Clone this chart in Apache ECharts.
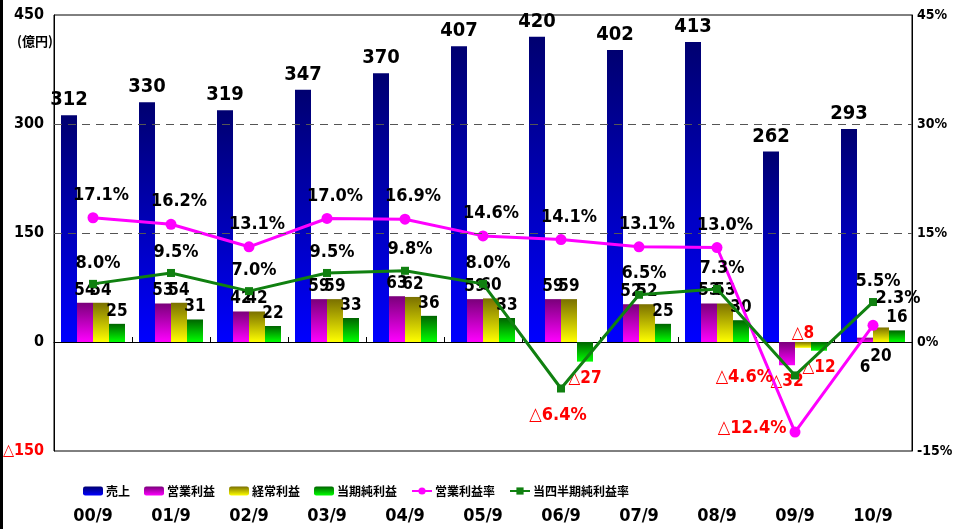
<!DOCTYPE html>
<html>
<head>
<meta charset="utf-8">
<script src="https://cdn.jsdelivr.net/npm/echarts@6/dist/echarts.min.js"></script>
<style>
  html, body { margin: 0; padding: 0; background: #fff; }
  #chart { width: 953px; height: 529px; }
</style>
</head>
<body>
<div id="chart"></div>
<script>
// Half-year results (September periods), 億円 and %
const categories = ['00/9', '01/9', '02/9', '03/9', '04/9', '05/9', '06/9', '07/9', '08/9', '09/9', '10/9'];
const sales = [312, 330, 319, 347, 370, 407, 420, 402, 413, 262, 293];
const operatingProfit = [54, 53, 42, 59, 63, 59, 59, 52, 53, -32, 6];
const ordinaryProfit = [54, 54, 42, 59, 62, 60, 59, 52, 53, -8, 20];
const netProfit = [25, 31, 22, 33, 36, 33, -27, 25, 30, -12, 16];
const operatingMargin = [17.1, 16.2, 13.1, 17.0, 16.9, 14.6, 14.1, 13.1, 13.0, -12.4, 2.3];
const quarterlyNetMargin = [8.0, 9.5, 7.0, 9.5, 9.8, 8.0, -6.4, 6.5, 7.3, -4.6, 5.5];
const amountTicks = [-150, 450, 150];   // min, max, step
const rateTicks = [-15, 45, 15];

const FONT = "'Liberation Sans Narrow', 'Arial Narrow', 'DejaVu Sans Condensed', 'Noto Sans CJK JP', sans-serif";
const CJK = "'Noto Sans CJK JP', sans-serif";
const RED = '#ff0000';

function grad(top, bottom) {
  return new echarts.graphic.LinearGradient(0, 0, 0, 1, [
    { offset: 0, color: top }, { offset: 1, color: bottom }
  ]);
}

const tri = v => '\u25B3' + v;
const fmtAmount = p => (p.value < 0 ? tri(Math.abs(p.value)) : String(p.value));
const fmtRate = p => (p.value < 0 ? tri(Math.abs(p.value).toFixed(1)) + '%' : p.value.toFixed(1) + '%');

// Individual label placements that differ from the series default
const barLabelTweaks = {
  op: { 10: { position: 'bottom', distance: 17 } },
  ord: { 9: { position: 'top', distance: 0 }, 10: { position: 'bottom', distance: 6 } },
  net: {}
};
const lineLabelTweaks = {
  margin: { 9: { position: 'left', distance: 3, offset: [0, -4] }, 10: { position: 'top', offset: [25, -4] } },
  qnet: { 6: { position: 'bottom', distance: 14, offset: [-3, 0] }, 9: { position: 'left', distance: 18, offset: [0, 2] } }
};

function barItems(values, tweaks) {
  return values.map((v, i) => {
    let label = null;
    if (v < 0) label = { color: RED, position: 'bottom', distance: 8 };
    if (tweaks[i]) label = Object.assign(label || {}, tweaks[i]);
    return label ? { value: v, label } : v;
  });
}
function lineItems(values, tweaks) {
  return values.map((v, i) => {
    let label = null;
    if (v < 0) label = { color: RED };
    if (tweaks[i]) label = Object.assign(label || {}, tweaks[i]);
    return label ? { value: v, label } : v;
  });
}

const barLabel = {
  show: true, position: 'top', distance: 4,
  fontFamily: FONT, fontWeight: 'bold', fontSize: 17, color: '#000',
  formatter: fmtAmount
};

const chart = echarts.init(document.getElementById('chart'), null, { renderer: 'canvas' });

chart.setOption({
  animation: false,
  backgroundColor: '#fff',
  grid: {
    left: 54, top: 15, width: 858, height: 436,
    containLabel: false, outerBoundsMode: 'none',
    show: true, borderColor: '#000', borderWidth: 1, backgroundColor: 'transparent'
  },
  legend: {
    left: 78, top: 480,
    itemWidth: 20, itemHeight: 9, itemGap: 14,
    textStyle: { fontFamily: CJK, fontWeight: 'bold', fontSize: 12, color: '#000', padding: [0, 0, 0, -2] },
    data: ['売上', '営業利益', '経常利益', '当期純利益', '営業利益率', '当四半期純利益率']
  },
  xAxis: {
    type: 'category',
    data: categories,
    axisLine: { onZero: true, lineStyle: { color: '#000', width: 1 } },
    axisTick: { show: true, inside: true, length: 5, lineStyle: { color: '#000' } },
    axisLabel: { margin: 56, fontFamily: FONT, fontWeight: 'bold', fontSize: 18, color: '#000' },
    splitLine: { show: false }
  },
  yAxis: [
    {
      type: 'value', min: amountTicks[0], max: amountTicks[1], interval: amountTicks[2],
      axisLine: { show: true, lineStyle: { color: '#000' } },
      axisTick: { show: false },
      splitLine: { show: false },
      axisLabel: {
        margin: 10, fontFamily: FONT, fontWeight: 'bold', fontSize: 16, color: '#000',
        formatter: v => (v < 0 ? '{neg|' + tri(-v) + '}' : String(v)),
        rich: { neg: { color: RED, fontFamily: FONT, fontWeight: 'bold', fontSize: 16 } }
      }
    },
    {
      type: 'value', min: rateTicks[0], max: rateTicks[1], interval: rateTicks[2],
      position: 'right',
      axisLine: { show: true, lineStyle: { color: '#000' } },
      axisTick: { show: false },
      splitLine: { show: false },
      axisLabel: {
        margin: 5, fontFamily: FONT, fontWeight: 'bold', fontSize: 14, color: '#000',
        formatter: v => v + '%'
      }
    }
  ],
  series: [
    {
      name: '売上', type: 'bar', barWidth: 16, barGap: '0%',
      itemStyle: { color: grad('#000070', '#0000ff') },
      label: Object.assign({}, barLabel, { fontSize: 20, distance: 5 }),
      data: sales,
      markLine: {
        silent: true, symbol: 'none', label: { show: false },
        lineStyle: { color: '#555', type: [8, 6], width: 1 },
        data: [{ yAxis: 150 }, { yAxis: 300 }]
      }
    },
    {
      name: '営業利益', type: 'bar', barWidth: 16, barGap: '0%',
      itemStyle: { color: grad('#7a007a', '#ff00ff') },
      label: barLabel,
      data: barItems(operatingProfit, barLabelTweaks.op)
    },
    {
      name: '経常利益', type: 'bar', barWidth: 16, barGap: '0%',
      itemStyle: { color: grad('#7a7000', '#ffff00') },
      label: barLabel,
      data: barItems(ordinaryProfit, barLabelTweaks.ord)
    },
    {
      name: '当期純利益', type: 'bar', barWidth: 16, barGap: '0%',
      itemStyle: { color: grad('#006400', '#00ff00') },
      label: barLabel,
      data: barItems(netProfit, barLabelTweaks.net)
    },
    {
      name: '営業利益率', type: 'line', yAxisIndex: 1,
      symbol: 'circle', symbolSize: 11,
      lineStyle: { color: '#ff00ff', width: 3 },
      itemStyle: { color: '#ff00ff' },
      label: {
        show: true, position: 'top', distance: 8, offset: [8, 0],
        fontFamily: FONT, fontWeight: 'bold', fontSize: 18, color: '#000',
        formatter: fmtRate
      },
      data: lineItems(operatingMargin, lineLabelTweaks.margin),
      z: 4
    },
    {
      name: '当四半期純利益率', type: 'line', yAxisIndex: 1,
      symbol: 'rect', symbolSize: 8,
      lineStyle: { color: '#108010', width: 3 },
      itemStyle: { color: '#108010' },
      label: {
        show: true, position: 'top', distance: 8, offset: [5, 0],
        fontFamily: FONT, fontWeight: 'bold', fontSize: 18, color: '#000',
        formatter: fmtRate
      },
      data: lineItems(quarterlyNetMargin, lineLabelTweaks.qnet),
      z: 4
    }
  ],
  graphic: [
    { type: 'rect', left: 0, top: 0, shape: { width: 3, height: 529 }, style: { fill: '#000' } },
    {
      type: 'text', left: 17, top: 35,
      style: { text: '(億円)', fontFamily: CJK, fontWeight: 'bold', fontSize: 13, fill: '#000' }
    }
  ]
});
</script>
</body>
</html>
